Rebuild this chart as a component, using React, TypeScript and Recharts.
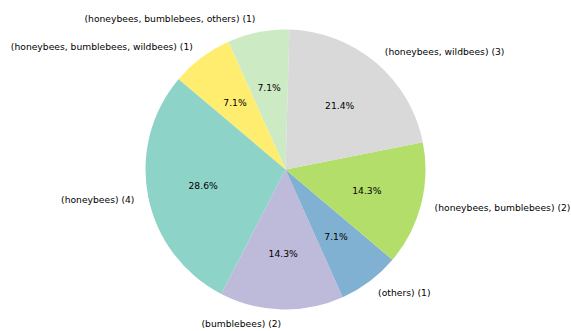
import React from 'react';
import { PieChart, Pie, Cell } from 'recharts';

const categories = [
  '(honeybees, bumblebees, others) (1)',
  '(honeybees, bumblebees, wildbees) (1)',
  '(honeybees) (4)',
  '(bumblebees) (2)',
  '(others) (1)',
  '(honeybees, bumblebees) (2)',
  '(honeybees, wildbees) (3)',
];
const values = [1, 1, 4, 2, 1, 2, 3];
const colors = ['#ccebc5', '#ffed6f', '#8dd3c7', '#bebada', '#80b1d3', '#b3de69', '#d9d9d9'];

const data = categories.map((name, i) => ({ name, value: values[i] }));

const RADIAN = Math.PI / 180;
const FONT = 'DejaVu Sans, sans-serif';

const renderLabel = (props: any) => {
  const { cx, cy, midAngle, outerRadius, percent, name } = props;
  const cos = Math.cos(-midAngle * RADIAN);
  const sin = Math.sin(-midAngle * RADIAN);
  const lx = cx + outerRadius * 1.1 * cos;
  const ly = cy + outerRadius * 1.1 * sin;
  const px = cx + outerRadius * 0.6 * cos;
  const py = cy + outerRadius * 0.6 * sin;
  return (
    <g>
      <text x={lx} y={ly} fontSize={9.2} fontFamily={FONT} fill="#000" textAnchor={cos >= 0 ? 'start' : 'end'} dominantBaseline="central">
        {name}
      </text>
      <text x={px} y={py} fontSize={9.2} fontFamily={FONT} fill="#000" textAnchor="middle" dominantBaseline="central">
        {(percent * 100).toFixed(1) + '%'}
      </text>
    </g>
  );
};

export default function App() {
  return (
    <div style={{ position: 'absolute', left: 0, top: 0, width: 571, height: 331, background: '#fff' }}>
      <PieChart width={571} height={331} margin={{ top: 0, right: 0, bottom: 0, left: 0 }}>
        <Pie
          data={data}
          dataKey="value"
          nameKey="name"
          cx={285.5}
          cy={169.5}
          outerRadius={140}
          startAngle={88.4}
          endAngle={448.4}
          stroke="none"
          label={renderLabel}
          labelLine={false}
          isAnimationActive={false}
        >
          {data.map((d, i) => (
            <Cell key={d.name} fill={colors[i]} />
          ))}
        </Pie>
      </PieChart>
    </div>
  );
}
